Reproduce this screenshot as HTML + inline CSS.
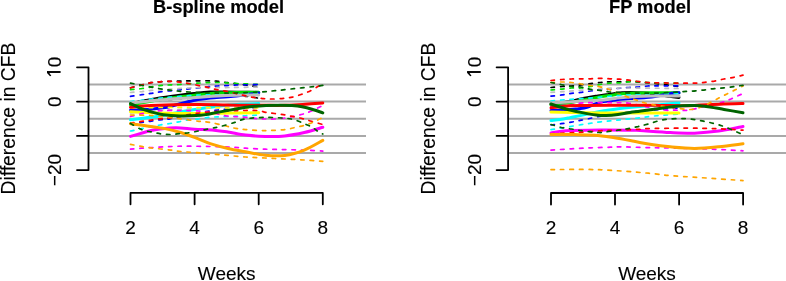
<!DOCTYPE html>
<html><head><meta charset="utf-8"><style>
html,body{margin:0;padding:0;background:#fff;}
svg{display:block;filter:blur(0.35px);}
.t{font-family:"Liberation Sans",sans-serif;font-size:19px;fill:#000;stroke:#000;stroke-width:0.12px;}
.b{font-family:"Liberation Sans",sans-serif;font-size:18.3px;font-weight:bold;fill:#000;stroke:#000;stroke-width:0.2px;}
</style></head><body>
<svg width="786" height="281" viewBox="0 0 786 281">
<line x1="88.5" y1="84.4" x2="366.0" y2="84.4" stroke="#A9A9A9" stroke-width="2"/>
<line x1="88.5" y1="101.6" x2="366.0" y2="101.6" stroke="#A9A9A9" stroke-width="2"/>
<line x1="88.5" y1="118.7" x2="366.0" y2="118.7" stroke="#A9A9A9" stroke-width="2"/>
<line x1="88.5" y1="135.9" x2="366.0" y2="135.9" stroke="#A9A9A9" stroke-width="2"/>
<line x1="88.5" y1="153.0" x2="366.0" y2="153.0" stroke="#A9A9A9" stroke-width="2"/>
<line x1="508.1" y1="84.4" x2="786.0" y2="84.4" stroke="#A9A9A9" stroke-width="2"/>
<line x1="508.1" y1="101.6" x2="786.0" y2="101.6" stroke="#A9A9A9" stroke-width="2"/>
<line x1="508.1" y1="118.7" x2="786.0" y2="118.7" stroke="#A9A9A9" stroke-width="2"/>
<line x1="508.1" y1="135.9" x2="786.0" y2="135.9" stroke="#A9A9A9" stroke-width="2"/>
<line x1="508.1" y1="153.0" x2="786.0" y2="153.0" stroke="#A9A9A9" stroke-width="2"/>
<path d="M130.5 103.5C134.5 102.8 146.3 100.4 154.6 99.0C162.8 97.6 170.8 96.5 180.0 95.3C189.2 94.1 202.5 92.6 210.0 92.1C217.5 91.6 220.0 92.1 225.0 92.1C230.0 92.1 234.4 92.2 240.0 92.3C245.6 92.3 255.6 92.4 258.7 92.4" stroke="#000000" stroke-width="3.0" stroke-linecap="round" fill="none"/>
<path d="M130.5 87.8C132.4 87.3 138.6 85.8 142.0 84.9C145.4 84.1 148.0 83.2 151.0 82.7C154.0 82.2 156.8 82.0 160.0 81.8C163.2 81.6 166.7 81.4 170.0 81.3C173.3 81.2 176.8 81.2 180.0 81.1C183.2 81.0 184.0 81.0 189.0 80.9C194.0 80.9 205.2 80.7 210.0 80.8C214.8 80.9 215.0 81.0 218.0 81.3C221.0 81.6 224.8 82.3 228.0 82.7C231.2 83.1 233.8 83.4 237.0 83.8C240.2 84.2 243.4 84.7 247.0 85.2C250.6 85.7 256.8 86.7 258.7 87.0" stroke="#000000" stroke-width="1.7" stroke-dasharray="3.5 6" stroke-linecap="round" fill="none"/>
<path d="M130.5 103.3C136.4 102.7 155.1 100.7 166.0 99.8C176.9 98.9 186.0 98.6 196.0 97.9C206.0 97.2 218.7 96.2 226.0 95.8C233.3 95.4 236.0 95.6 240.0 95.8C244.0 96.0 246.9 96.3 250.0 96.7C253.1 97.1 257.2 98.0 258.7 98.2" stroke="#000000" stroke-width="1.7" stroke-dasharray="3.5 6" stroke-linecap="round" fill="none"/>
<path d="M130.5 105.0C134.5 104.2 146.3 101.9 154.6 100.5C162.8 99.1 170.8 98.0 180.0 96.8C189.2 95.6 200.8 94.1 210.0 93.4C219.2 92.7 226.9 92.8 235.0 92.6C243.1 92.4 254.8 92.3 258.7 92.3" stroke="#00E000" stroke-width="3.0" stroke-linecap="round" fill="none"/>
<path d="M130.5 89.6C132.4 89.4 137.1 89.2 142.0 88.5C146.9 87.8 155.3 86.2 160.0 85.6C164.7 85.0 166.7 85.1 170.0 84.9C173.3 84.7 175.0 84.8 180.0 84.5C185.0 84.2 193.7 83.3 200.0 83.0C206.3 82.7 211.8 82.4 218.0 82.5C224.2 82.6 230.2 83.2 237.0 83.5C243.8 83.8 255.1 84.3 258.7 84.5" stroke="#00E000" stroke-width="1.7" stroke-dasharray="3.5 6" stroke-linecap="round" fill="none"/>
<path d="M130.5 110.2C132.9 110.1 140.9 109.8 145.0 109.6C149.1 109.4 151.7 109.1 155.0 108.8C158.3 108.5 162.2 108.1 165.0 107.6C167.8 107.1 169.5 106.6 172.0 106.0C174.5 105.4 177.3 104.5 180.0 103.8C182.7 103.1 185.3 102.4 188.0 101.8C190.7 101.2 192.3 100.6 196.0 100.0C199.7 99.4 203.8 98.6 210.0 98.0C216.2 97.4 224.9 97.1 233.0 96.3C241.1 95.5 254.4 93.5 258.7 93.0" stroke="#0000FF" stroke-width="3.0" stroke-linecap="round" fill="none"/>
<path d="M130.5 96.3C132.4 96.0 138.6 95.2 142.0 94.7C145.4 94.2 148.0 93.9 151.0 93.4C154.0 92.9 155.2 92.5 160.0 91.9C164.8 91.3 175.2 90.3 180.0 89.8C184.8 89.3 184.2 89.4 189.0 88.9C193.8 88.4 204.2 87.2 209.0 86.7C213.8 86.2 215.0 86.2 218.0 86.0C221.0 85.8 223.8 85.8 227.0 85.6C230.2 85.4 231.7 85.2 237.0 85.0C242.3 84.8 255.1 84.6 258.7 84.5" stroke="#0000FF" stroke-width="1.7" stroke-dasharray="3.5 6" stroke-linecap="round" fill="none"/>
<path d="M130.5 124.0C132.1 123.8 136.8 123.0 140.0 122.6C143.2 122.1 146.7 121.8 150.0 121.3C153.3 120.8 156.7 120.2 160.0 119.8C163.3 119.4 164.2 119.8 170.0 118.8C175.8 117.8 187.0 115.0 195.0 113.5C203.0 112.0 210.5 110.8 218.0 110.0C225.5 109.2 233.2 108.9 240.0 108.5C246.8 108.1 255.6 107.7 258.7 107.5" stroke="#0000FF" stroke-width="1.7" stroke-dasharray="3.5 6" stroke-linecap="round" fill="none"/>
<path d="M130.5 119.8C132.9 119.5 139.6 118.7 145.0 118.0C150.4 117.3 157.2 116.5 163.0 115.5C168.8 114.5 174.2 113.1 180.0 112.0C185.8 110.9 191.3 110.0 198.0 109.0C204.7 108.0 213.0 106.8 220.0 106.0C227.0 105.2 233.6 104.7 240.0 104.3C246.4 103.9 255.6 103.7 258.7 103.6" stroke="#00FFFF" stroke-width="3.0" stroke-linecap="round" fill="none"/>
<path d="M130.5 101.5C132.4 101.3 138.6 100.7 142.0 100.3C145.4 99.9 148.0 99.3 151.0 99.0C154.0 98.7 156.8 98.5 160.0 98.2C163.2 97.9 163.3 97.7 170.0 97.2C176.7 96.7 190.0 95.5 200.0 95.0C210.0 94.5 220.2 94.3 230.0 94.0C239.8 93.7 253.9 93.2 258.7 93.0" stroke="#00FFFF" stroke-width="1.7" stroke-dasharray="3.5 6" stroke-linecap="round" fill="none"/>
<path d="M130.5 131.0C132.1 130.7 136.8 129.7 140.0 129.0C143.2 128.3 146.7 127.7 150.0 127.0C153.3 126.3 156.7 125.6 160.0 125.0C163.3 124.4 166.8 124.0 170.0 123.5C173.2 123.0 175.8 122.4 178.9 121.8C182.0 121.2 185.4 120.3 188.7 119.8C192.0 119.3 195.2 119.2 198.5 118.8C201.8 118.4 205.1 117.7 208.3 117.4C211.6 117.1 212.7 117.1 218.0 116.9C223.3 116.7 233.2 116.3 240.0 116.0C246.8 115.7 255.6 115.2 258.7 115.0" stroke="#00FFFF" stroke-width="1.7" stroke-dasharray="3.5 6" stroke-linecap="round" fill="none"/>
<path d="M130.5 103.0C136.4 102.4 155.1 100.4 166.0 99.5C176.9 98.6 186.0 98.3 196.0 97.6C206.0 96.9 215.6 95.9 226.0 95.5C236.4 95.1 253.2 95.1 258.7 95.0" stroke="#BEBEBE" stroke-width="3.0" stroke-linecap="round" fill="none"/>
<path d="M130.5 92.5C132.4 92.3 138.6 91.9 142.0 91.6C145.4 91.2 143.2 91.0 151.0 90.4C158.8 89.8 181.0 88.5 189.0 88.0C197.0 87.5 192.2 87.8 199.0 87.7C205.8 87.6 220.1 87.6 230.0 87.5C239.9 87.4 253.9 87.1 258.7 87.0" stroke="#BEBEBE" stroke-width="1.7" stroke-dasharray="3.5 6" stroke-linecap="round" fill="none"/>
<path d="M130.5 113.0C137.1 112.5 156.8 110.8 170.0 110.0C183.2 109.2 195.2 108.7 210.0 108.0C224.8 107.3 250.6 106.3 258.7 106.0" stroke="#BEBEBE" stroke-width="1.7" stroke-dasharray="3.5 6" stroke-linecap="round" fill="none"/>
<path d="M130.5 111.7C134.9 111.9 146.1 112.6 157.0 112.9C167.9 113.2 183.8 113.5 196.0 113.5C208.2 113.5 219.6 113.1 230.0 113.0C240.4 112.9 253.9 112.8 258.7 112.8" stroke="#FFFF00" stroke-width="3.0" stroke-linecap="round" fill="none"/>
<path d="M130.5 108.0C135.4 107.9 148.4 107.6 160.0 107.5C171.6 107.4 188.3 107.4 200.0 107.5C211.7 107.6 220.2 107.9 230.0 108.0C239.8 108.1 253.9 108.0 258.7 108.0" stroke="#FFFF00" stroke-width="1.7" stroke-dasharray="3.5 6" stroke-linecap="round" fill="none"/>
<path d="M130.5 136.4C132.1 135.9 136.8 134.5 140.0 133.6C143.2 132.7 146.7 131.6 150.0 130.8C153.3 130.0 155.7 129.5 160.0 129.0C164.3 128.5 170.2 127.8 176.0 127.8C181.8 127.8 188.2 128.8 194.5 129.2C200.8 129.6 208.4 129.7 214.0 130.2C219.6 130.7 222.7 131.2 228.0 132.0C233.3 132.8 239.4 134.4 245.6 135.1C251.8 135.8 258.7 136.3 265.2 136.4C271.7 136.5 278.3 136.6 284.8 135.9C291.3 135.2 298.0 133.9 304.3 132.5C310.6 131.1 319.7 128.1 322.8 127.2" stroke="#FF00FF" stroke-width="3.0" stroke-linecap="round" fill="none"/>
<path d="M130.5 116.5C132.9 115.9 140.1 114.0 145.0 113.0C149.9 112.0 154.2 111.1 160.0 110.7C165.8 110.3 173.5 110.5 180.0 110.5C186.5 110.5 193.2 110.5 199.0 111.0C204.8 111.5 210.3 112.7 215.0 113.5C219.7 114.3 223.4 115.5 227.0 116.0C230.6 116.5 233.2 116.5 236.4 116.7C239.7 116.9 243.1 117.1 246.5 117.4C249.9 117.7 253.5 118.3 256.7 118.6C259.9 118.9 262.6 118.9 265.6 119.0C268.6 119.1 271.3 119.2 274.5 119.0C277.7 118.8 281.6 118.4 284.7 118.0C287.8 117.6 290.0 117.1 293.0 116.5C296.0 115.9 299.4 115.1 302.5 114.2C305.6 113.3 308.0 112.5 311.4 111.0C314.8 109.5 320.9 106.4 322.8 105.5" stroke="#FF00FF" stroke-width="1.7" stroke-dasharray="3.5 6" stroke-linecap="round" fill="none"/>
<path d="M130.5 149.2C132.4 149.0 135.8 148.6 141.7 148.2C147.6 147.8 159.1 147.1 166.0 146.8C172.9 146.5 175.7 146.2 183.0 146.2C190.3 146.1 201.8 146.3 210.0 146.5C218.2 146.7 226.0 146.9 231.9 147.2C237.8 147.5 240.1 147.9 245.6 148.2C251.1 148.5 258.7 149.0 265.2 149.2C271.7 149.4 278.3 149.4 284.8 149.6C291.3 149.8 298.0 149.8 304.3 150.1C310.6 150.3 319.7 150.9 322.8 151.1" stroke="#FF00FF" stroke-width="1.7" stroke-dasharray="3.5 6" stroke-linecap="round" fill="none"/>
<path d="M130.5 107.3C133.9 107.0 140.1 105.9 151.0 105.4C161.9 105.0 183.2 104.6 196.0 104.6C208.8 104.5 217.3 105.0 228.0 105.1C238.7 105.2 250.3 105.3 260.0 105.3C269.7 105.3 278.5 105.5 286.0 105.3C293.5 105.1 298.9 104.7 305.0 104.3C311.1 103.9 319.8 103.2 322.8 103.0" stroke="#FF0000" stroke-width="3.0" stroke-linecap="round" fill="none"/>
<path d="M130.5 87.8C132.4 87.3 138.6 85.8 142.0 84.9C145.4 84.1 148.0 83.2 151.0 82.7C154.0 82.2 156.8 82.0 160.0 81.8C163.2 81.6 166.7 81.2 170.0 81.3C173.3 81.4 176.8 81.8 180.0 82.2C183.2 82.6 184.2 82.7 189.0 83.6C193.8 84.5 204.2 86.7 209.0 87.7C213.8 88.8 214.9 89.3 218.0 89.9C221.1 90.5 224.2 90.8 227.5 91.5C230.8 92.2 234.6 93.3 237.5 94.0C240.4 94.7 242.4 95.2 245.0 95.7C247.6 96.2 249.8 96.8 253.0 97.3C256.2 97.8 260.7 98.4 264.0 98.7C267.3 99.0 269.7 99.0 273.0 99.0C276.3 99.0 280.8 98.7 284.0 98.4C287.2 98.1 289.5 97.8 292.5 97.1C295.5 96.4 298.8 95.3 301.8 94.2C304.8 93.1 307.8 92.1 310.6 90.7C313.5 89.3 316.9 87.0 318.9 86.0C320.9 85.0 322.1 84.8 322.8 84.5" stroke="#FF0000" stroke-width="1.7" stroke-dasharray="3.5 6" stroke-linecap="round" fill="none"/>
<path d="M130.5 123.0C132.1 122.8 136.8 122.0 140.0 121.6C143.2 121.1 146.7 120.8 150.0 120.3C153.3 119.8 156.5 119.2 160.0 118.8C163.5 118.4 166.2 118.5 171.0 117.8C175.8 117.1 182.5 115.5 189.0 114.5C195.5 113.5 202.3 112.6 210.0 112.0C217.7 111.4 227.2 111.0 235.0 110.7C242.8 110.5 251.9 110.2 257.0 110.5C262.1 110.8 262.7 111.8 265.6 112.3C268.5 112.8 271.3 113.1 274.5 113.5C277.7 113.9 281.5 114.3 284.7 114.8C287.9 115.3 290.6 116.1 293.6 116.7C296.6 117.3 299.5 117.8 302.5 118.6C305.5 119.3 308.0 120.2 311.4 121.2C314.8 122.2 320.9 124.0 322.8 124.5" stroke="#FF0000" stroke-width="1.7" stroke-dasharray="3.5 6" stroke-linecap="round" fill="none"/>
<path d="M130.5 123.7C133.0 124.0 139.8 124.9 145.6 125.7C151.4 126.5 159.3 127.5 165.2 128.6C171.1 129.7 175.9 131.0 180.8 132.5C185.7 134.0 189.6 135.6 194.5 137.4C199.4 139.2 204.6 141.8 210.2 143.6C215.8 145.4 222.1 147.1 228.0 148.5C233.9 149.9 239.4 150.7 245.6 151.8C251.8 152.9 258.7 154.6 265.2 155.2C271.7 155.8 278.3 156.2 284.8 155.4C291.3 154.6 298.0 152.6 304.3 150.1C310.6 147.6 319.7 142.0 322.8 140.4" stroke="#FFA500" stroke-width="3.0" stroke-linecap="round" fill="none"/>
<path d="M130.5 115.0C133.8 115.1 143.4 115.1 150.0 115.5C156.6 115.9 165.0 117.0 170.0 117.5C175.0 118.0 175.2 118.1 180.0 118.7C184.8 119.3 194.0 120.7 199.0 121.3C204.0 121.9 205.5 121.6 210.0 122.4C214.5 123.2 221.7 125.0 226.0 126.0C230.3 127.0 232.5 127.8 235.8 128.4C239.1 129.0 240.7 129.2 245.6 129.6C250.5 130.0 258.7 130.6 265.2 130.6C271.7 130.6 279.9 130.1 284.8 129.6C289.7 129.1 291.2 128.3 294.5 127.6C297.8 126.9 301.1 126.3 304.3 125.3C307.6 124.3 310.9 123.1 314.0 121.8C317.1 120.5 321.3 118.2 322.8 117.5" stroke="#FFA500" stroke-width="1.7" stroke-dasharray="3.5 6" stroke-linecap="round" fill="none"/>
<path d="M130.5 144.3C132.1 144.6 136.7 145.6 140.0 146.2C143.3 146.8 145.3 147.2 150.5 147.8C155.7 148.5 165.9 149.5 171.0 150.1C176.1 150.7 176.1 151.0 181.0 151.5C185.9 152.0 195.5 152.6 200.4 153.0C205.3 153.4 206.9 153.7 210.2 154.0C213.5 154.3 217.1 154.5 220.0 154.7C222.9 154.9 223.5 155.0 227.8 155.4C232.1 155.8 239.4 156.6 245.6 157.0C251.8 157.4 258.7 157.7 265.2 158.0C271.7 158.3 278.3 158.7 284.8 159.0C291.3 159.3 298.0 159.6 304.3 160.0C310.6 160.4 319.7 161.1 322.8 161.3" stroke="#FFA500" stroke-width="1.7" stroke-dasharray="3.5 6" stroke-linecap="round" fill="none"/>
<path d="M130.5 103.6C131.8 104.2 136.1 106.3 138.5 107.3C140.9 108.3 142.6 109.0 144.7 109.8C146.8 110.5 147.8 111.0 150.9 111.8C154.0 112.6 158.6 114.0 163.4 114.7C168.2 115.4 174.6 115.8 180.0 115.9C185.4 116.1 191.7 115.8 196.0 115.6C200.3 115.4 202.4 115.1 206.0 114.6C209.6 114.1 211.9 113.4 217.3 112.4C222.8 111.4 232.9 109.5 238.7 108.5C244.5 107.5 247.4 107.1 252.0 106.6C256.6 106.1 261.3 105.7 266.0 105.5C270.7 105.3 275.7 105.2 280.0 105.2C284.3 105.2 288.3 105.3 292.0 105.6C295.7 105.9 298.7 106.2 302.0 106.8C305.3 107.4 308.5 108.2 312.0 109.2C315.5 110.2 321.0 112.3 322.8 112.9" stroke="#006400" stroke-width="3.0" stroke-linecap="round" fill="none"/>
<path d="M130.5 83.1C133.9 83.8 144.4 85.9 151.0 87.1C157.6 88.3 163.7 89.4 170.0 90.2C176.3 91.0 182.3 91.5 189.0 92.0C195.7 92.5 202.3 92.8 210.0 93.0C217.7 93.2 226.9 93.1 235.0 93.0C243.1 92.9 252.0 92.6 258.7 92.2C265.4 91.8 269.1 91.3 275.0 90.7C280.9 90.1 287.6 89.4 294.0 88.7C300.4 88.0 308.8 87.2 313.6 86.6C318.4 86.0 321.3 85.5 322.8 85.3" stroke="#006400" stroke-width="1.7" stroke-dasharray="3.5 6" stroke-linecap="round" fill="none"/>
<path d="M130.5 123.5C132.4 124.5 138.2 128.2 141.7 129.6C145.2 131.0 148.2 131.3 151.5 132.0C154.8 132.7 158.1 133.5 161.3 133.9C164.6 134.3 167.8 134.6 171.0 134.5C174.2 134.4 177.5 133.8 180.8 133.5C184.1 133.2 187.3 133.0 190.6 132.5C193.9 132.0 197.1 131.2 200.4 130.6C203.7 129.9 206.9 129.3 210.2 128.6C213.5 127.9 215.9 127.6 220.0 126.6C224.1 125.6 230.5 123.7 234.8 122.4C239.1 121.1 240.5 119.6 245.6 118.8C250.7 118.0 258.7 117.5 265.2 117.4C271.7 117.3 279.9 117.8 284.8 118.2C289.7 118.6 291.2 118.9 294.5 119.8C297.8 120.7 301.4 122.5 304.3 123.7C307.2 124.9 309.9 125.9 312.2 127.2C314.5 128.5 316.2 130.4 318.0 131.5C319.8 132.6 322.0 133.6 322.8 134.0" stroke="#006400" stroke-width="1.7" stroke-dasharray="3.5 6" stroke-linecap="round" fill="none"/>
<path d="M551.0 104.0C553.7 103.7 563.2 102.5 567.0 102.0C570.8 101.5 570.4 101.4 573.6 100.7C576.8 100.0 581.9 98.8 586.0 98.0C590.1 97.2 594.2 96.6 598.0 96.0C601.8 95.4 605.0 95.0 608.7 94.5C612.4 94.0 616.5 93.3 620.0 93.0C623.5 92.7 625.8 92.4 630.0 92.4C634.2 92.4 640.0 92.6 645.0 93.0C650.0 93.4 655.8 94.2 660.0 94.8C664.2 95.3 666.8 95.9 670.0 96.3C673.2 96.7 677.5 97.2 679.0 97.4" stroke="#000000" stroke-width="3.0" stroke-linecap="round" fill="none"/>
<path d="M551.0 87.5C552.8 87.3 558.6 86.8 562.0 86.5C565.4 86.2 565.1 86.7 571.4 86.0C577.7 85.3 593.6 83.2 600.0 82.5C606.4 81.8 606.7 81.9 610.0 81.8C613.3 81.7 616.8 81.8 620.0 81.8C623.2 81.8 624.0 81.3 629.0 81.5C634.0 81.7 641.7 82.2 650.0 83.0C658.3 83.8 674.2 86.0 679.0 86.6" stroke="#000000" stroke-width="1.7" stroke-dasharray="3.5 6" stroke-linecap="round" fill="none"/>
<path d="M551.0 105.0C553.7 104.7 563.2 103.5 567.0 103.0C570.8 102.5 570.4 102.6 573.6 102.0C576.8 101.4 581.9 100.3 586.0 99.5C590.1 98.7 594.2 97.9 598.0 97.2C601.8 96.5 605.0 96.1 608.7 95.6C612.4 95.1 616.5 94.4 620.0 94.0C623.5 93.6 625.0 93.5 630.0 93.3C635.0 93.1 641.8 92.9 650.0 92.8C658.2 92.7 674.2 92.8 679.0 92.8" stroke="#00E000" stroke-width="3.0" stroke-linecap="round" fill="none"/>
<path d="M551.0 90.0C552.8 89.8 558.6 89.4 562.0 89.1C565.4 88.8 568.2 88.2 571.4 88.0C574.6 87.8 577.8 88.2 581.0 88.0C584.2 87.8 587.2 87.1 590.4 86.5C593.6 85.9 596.7 85.0 600.0 84.5C603.3 84.0 606.7 83.5 610.0 83.2C613.3 82.9 616.8 83.0 620.0 82.8C623.2 82.6 625.9 82.0 629.0 81.8C632.1 81.6 635.2 81.6 638.4 81.7C641.6 81.8 644.9 82.3 648.0 82.5C651.1 82.7 652.1 82.7 657.3 82.8C662.5 82.9 675.4 83.1 679.0 83.2" stroke="#00E000" stroke-width="1.7" stroke-dasharray="3.5 6" stroke-linecap="round" fill="none"/>
<path d="M551.0 110.5C553.3 110.4 560.5 110.3 565.0 110.0C569.5 109.7 574.3 109.2 578.0 108.8C581.7 108.3 583.5 108.3 587.0 107.3C590.5 106.3 594.8 103.7 599.0 102.6C603.2 101.5 608.5 101.0 612.0 100.5C615.5 100.0 617.0 99.6 620.0 99.3C623.0 99.0 625.7 98.8 630.0 98.5C634.3 98.2 641.0 98.0 646.0 97.5C651.0 97.0 655.7 96.2 660.0 95.5C664.3 94.8 668.8 93.7 672.0 93.2C675.2 92.8 677.8 92.9 679.0 92.8" stroke="#0000FF" stroke-width="3.0" stroke-linecap="round" fill="none"/>
<path d="M551.0 96.2C552.8 96.0 558.6 95.4 562.0 94.9C565.4 94.4 568.2 93.8 571.4 93.4C574.6 93.0 577.8 92.8 581.0 92.4C584.2 92.0 587.2 91.4 590.4 91.0C593.6 90.6 593.6 90.6 600.0 90.0C606.4 89.4 622.6 88.0 629.0 87.5C635.4 87.0 635.2 87.2 638.4 87.0C641.6 86.8 644.9 86.2 648.0 86.0C651.1 85.8 652.1 85.8 657.3 85.8C662.5 85.8 675.4 85.8 679.0 85.8" stroke="#0000FF" stroke-width="1.7" stroke-dasharray="3.5 6" stroke-linecap="round" fill="none"/>
<path d="M551.0 125.0C552.7 124.8 557.6 124.2 561.0 123.7C564.4 123.2 568.1 122.7 571.5 122.1C574.9 121.5 573.2 121.7 581.3 120.2C589.4 118.7 603.7 115.0 620.0 113.0C636.3 111.0 669.2 108.8 679.0 108.0" stroke="#0000FF" stroke-width="1.7" stroke-dasharray="3.5 6" stroke-linecap="round" fill="none"/>
<path d="M551.0 120.6C552.5 120.4 556.8 120.1 560.0 119.6C563.2 119.1 566.7 118.3 570.0 117.6C573.3 116.9 576.3 116.4 580.0 115.6C583.7 114.8 587.7 113.8 592.0 113.0C596.3 112.2 601.3 111.2 606.0 110.5C610.7 109.8 614.3 109.2 620.0 108.5C625.7 107.8 634.2 107.0 640.0 106.5C645.8 106.0 650.5 105.7 655.0 105.3C659.5 104.9 663.0 104.4 667.0 104.0C671.0 103.6 677.0 103.2 679.0 103.0" stroke="#00FFFF" stroke-width="3.0" stroke-linecap="round" fill="none"/>
<path d="M551.0 129.6C556.0 128.8 573.0 126.0 581.3 124.7C589.6 123.4 594.3 122.6 600.8 121.8C607.3 121.0 613.9 120.5 620.4 119.8C626.9 119.1 635.1 118.3 640.0 117.8C644.9 117.2 646.7 116.9 650.0 116.5C653.3 116.1 655.2 115.9 660.0 115.5C664.8 115.1 675.8 114.2 679.0 114.0" stroke="#00FFFF" stroke-width="1.7" stroke-dasharray="3.5 6" stroke-linecap="round" fill="none"/>
<path d="M551.0 101.0C552.8 100.8 558.7 100.3 562.0 100.0C565.3 99.7 567.8 99.5 571.0 99.3C574.2 99.1 577.0 98.9 581.0 98.6C585.0 98.3 588.5 98.1 595.0 97.6C601.5 97.1 610.8 96.1 620.0 95.5C629.2 94.9 640.2 94.3 650.0 94.0C659.8 93.7 674.2 93.6 679.0 93.5" stroke="#00FFFF" stroke-width="1.7" stroke-dasharray="3.5 6" stroke-linecap="round" fill="none"/>
<path d="M551.0 103.0C555.8 102.7 571.8 101.7 580.0 101.2C588.2 100.7 594.2 100.7 600.0 100.2C605.8 99.8 610.0 99.0 615.0 98.5C620.0 98.0 624.2 97.3 630.0 96.9C635.8 96.5 641.8 96.3 650.0 96.1C658.2 95.9 674.2 95.9 679.0 95.9" stroke="#BEBEBE" stroke-width="3.0" stroke-linecap="round" fill="none"/>
<path d="M551.0 92.4C552.8 92.3 558.7 91.9 562.0 91.7C565.3 91.5 564.7 91.5 571.0 91.0C577.3 90.5 591.8 89.5 600.0 89.0C608.2 88.5 606.8 88.1 620.0 88.0C633.2 87.9 669.2 88.4 679.0 88.5" stroke="#BEBEBE" stroke-width="1.7" stroke-dasharray="3.5 6" stroke-linecap="round" fill="none"/>
<path d="M551.0 112.0C556.8 112.1 574.5 112.6 586.0 112.8C597.5 113.0 604.5 113.0 620.0 113.0C635.5 113.0 669.2 113.0 679.0 113.0" stroke="#FFFF00" stroke-width="3.0" stroke-linecap="round" fill="none"/>
<path d="M551.0 133.0C553.5 132.6 557.8 131.3 566.0 130.8C574.2 130.3 589.3 130.1 600.0 130.0C610.7 129.9 623.3 130.1 630.0 130.2C636.7 130.3 633.3 130.2 640.0 130.6C646.7 131.0 661.1 132.2 670.2 132.6C679.3 133.0 686.3 133.4 694.4 133.2C702.5 132.9 710.5 132.2 718.6 131.1C726.7 130.0 738.9 127.3 743.0 126.6" stroke="#FF00FF" stroke-width="3.0" stroke-linecap="round" fill="none"/>
<path d="M551.0 106.3C554.3 106.0 566.2 105.3 571.0 104.8C575.8 104.3 577.0 103.5 580.0 103.2C583.0 102.9 584.0 102.8 589.0 102.7C594.0 102.6 603.5 102.5 610.0 102.6C616.5 102.7 622.2 102.4 628.0 103.1C633.8 103.8 639.0 105.3 645.0 106.5C651.0 107.7 658.8 109.4 664.0 110.0C669.2 110.6 672.3 110.1 676.0 110.2C679.7 110.3 682.8 110.6 686.0 110.4C689.2 110.2 691.8 109.5 695.0 108.8C698.2 108.1 700.5 107.4 705.0 106.3C709.5 105.2 717.6 103.7 722.0 102.4C726.4 101.1 728.0 100.2 731.5 98.7C735.0 97.2 741.1 94.4 743.0 93.5" stroke="#FF00FF" stroke-width="1.7" stroke-dasharray="3.5 6" stroke-linecap="round" fill="none"/>
<path d="M551.0 150.1C554.4 149.9 564.8 149.2 571.5 148.8C578.2 148.4 584.5 148.1 591.0 147.8C597.5 147.5 605.7 147.4 610.6 147.2C615.5 147.0 614.2 146.7 620.4 146.8C626.6 146.9 639.5 147.4 647.8 147.6C656.1 147.8 658.7 147.7 670.0 148.0C681.3 148.3 703.4 148.8 715.6 149.3C727.8 149.8 738.4 150.6 743.0 150.8" stroke="#FF00FF" stroke-width="1.7" stroke-dasharray="3.5 6" stroke-linecap="round" fill="none"/>
<path d="M551.0 107.8C554.1 107.5 563.7 106.2 569.5 105.8C575.3 105.4 575.9 105.5 586.0 105.4C596.1 105.3 617.7 105.3 630.0 105.3C642.3 105.3 650.8 105.3 660.0 105.4C669.2 105.5 678.3 105.8 685.0 105.7C691.7 105.7 694.2 105.3 700.0 105.1C705.8 104.8 712.8 104.5 720.0 104.2C727.2 103.9 739.2 103.6 743.0 103.5" stroke="#FF0000" stroke-width="3.0" stroke-linecap="round" fill="none"/>
<path d="M551.0 80.5C552.8 80.3 558.6 79.8 562.0 79.5C565.4 79.2 568.2 79.1 571.4 79.0C574.6 78.9 577.8 78.8 581.0 78.8C584.2 78.8 587.2 78.9 590.4 78.8C593.6 78.7 596.7 78.4 600.0 78.4C603.3 78.4 606.8 78.7 610.0 78.8C613.2 78.9 616.3 79.0 619.5 79.2C622.7 79.4 625.9 79.8 629.0 80.2C632.1 80.6 635.2 81.1 638.4 81.5C641.6 81.9 644.9 82.3 648.0 82.5C651.1 82.7 652.0 82.7 657.3 82.8C662.6 82.9 673.3 83.2 680.0 83.2C686.7 83.2 693.4 83.2 697.5 83.0C701.6 82.8 701.9 82.6 704.7 82.3C707.5 82.0 711.2 81.6 714.4 81.1C717.6 80.5 720.8 79.6 724.0 79.0C727.2 78.4 730.6 77.9 733.8 77.3C737.0 76.7 741.5 75.5 743.0 75.2" stroke="#FF0000" stroke-width="1.7" stroke-dasharray="3.5 6" stroke-linecap="round" fill="none"/>
<path d="M551.0 133.8C555.0 133.6 566.8 133.1 575.0 132.6C583.2 132.1 592.5 131.2 600.0 130.8C607.5 130.4 613.3 130.2 620.0 130.0C626.7 129.8 635.4 129.5 640.0 129.3C644.6 129.1 640.2 128.8 647.8 128.6C655.3 128.4 674.0 128.1 685.3 128.1C696.6 128.1 706.0 128.3 715.6 128.7C725.2 129.0 738.4 129.9 743.0 130.2" stroke="#FF0000" stroke-width="1.7" stroke-dasharray="3.5 6" stroke-linecap="round" fill="none"/>
<path d="M551.0 134.6C555.0 134.6 567.7 134.5 575.0 134.6C582.3 134.7 588.4 134.7 595.0 135.2C601.6 135.7 608.0 136.8 614.5 137.8C621.0 138.8 628.1 140.2 634.0 141.3C639.9 142.4 644.0 143.4 650.0 144.3C656.0 145.2 662.8 146.1 670.2 146.8C677.6 147.5 686.3 148.4 694.4 148.4C702.5 148.4 710.5 147.6 718.6 146.8C726.7 146.0 738.9 144.3 743.0 143.8" stroke="#FFA500" stroke-width="3.0" stroke-linecap="round" fill="none"/>
<path d="M551.0 82.5C552.8 82.4 558.6 82.0 562.0 82.0C565.4 82.0 566.7 81.9 571.4 82.5C576.1 83.1 585.6 84.8 590.4 85.5C595.2 86.2 596.7 86.1 600.0 86.8C603.3 87.5 605.7 88.2 610.0 89.8C614.3 91.4 621.8 94.8 626.0 96.4C630.2 98.0 631.8 98.5 635.0 99.6C638.2 100.7 640.8 101.9 645.0 103.0C649.2 104.1 654.3 105.1 660.0 106.0C665.7 106.9 673.7 107.9 679.0 108.5C684.3 109.1 688.3 109.7 692.0 109.4C695.7 109.2 698.1 108.1 701.0 107.0C703.9 105.9 706.5 104.5 709.5 103.0C712.5 101.5 715.9 99.6 718.8 98.1C721.7 96.6 724.2 95.3 727.0 93.9C729.8 92.5 733.1 90.9 735.8 89.6C738.5 88.3 741.8 86.6 743.0 86.0" stroke="#FFA500" stroke-width="1.7" stroke-dasharray="3.5 6" stroke-linecap="round" fill="none"/>
<path d="M551.0 169.6C559.0 169.6 582.8 169.1 599.0 169.7C615.2 170.3 636.5 172.2 648.4 173.2C660.3 174.2 661.5 174.9 670.2 175.6C678.9 176.3 688.3 176.8 700.4 177.6C712.5 178.4 735.9 180.1 743.0 180.6" stroke="#FFA500" stroke-width="1.7" stroke-dasharray="3.5 6" stroke-linecap="round" fill="none"/>
<path d="M551.0 104.0C553.5 104.8 561.0 107.6 566.0 109.0C571.0 110.4 576.0 111.4 581.0 112.4C586.0 113.4 591.8 114.5 596.0 115.0C600.2 115.5 602.3 115.6 606.0 115.5C609.7 115.4 614.0 115.0 618.0 114.5C622.0 114.0 626.2 113.1 630.0 112.5C633.8 111.9 635.5 111.8 641.0 111.0C646.5 110.2 657.2 108.8 663.0 108.0C668.8 107.2 671.5 106.7 676.0 106.3C680.5 105.9 686.0 105.7 690.0 105.6C694.0 105.5 696.7 105.5 700.0 105.7C703.3 105.9 706.0 106.3 710.0 106.9C714.0 107.5 718.5 108.4 724.0 109.4C729.5 110.4 739.8 112.2 743.0 112.7" stroke="#006400" stroke-width="3.0" stroke-linecap="round" fill="none"/>
<path d="M551.0 82.5C554.4 83.2 566.4 85.8 571.4 86.5C576.4 87.2 577.8 86.5 581.0 87.0C584.2 87.5 587.2 88.8 590.4 89.4C593.6 90.0 596.7 90.0 600.0 90.4C603.3 90.8 605.0 91.6 610.0 92.0C615.0 92.4 621.7 92.8 630.0 93.0C638.3 93.2 651.8 93.2 660.0 93.0C668.2 92.8 674.7 92.3 679.0 92.0C683.3 91.7 683.2 91.6 686.0 91.4C688.8 91.2 692.5 91.1 695.7 90.8C698.9 90.5 702.2 90.2 705.3 89.8C708.4 89.4 711.3 88.9 714.4 88.6C717.5 88.3 720.8 88.1 724.0 87.8C727.2 87.5 730.6 87.0 733.8 86.6C737.0 86.2 741.5 85.5 743.0 85.3" stroke="#006400" stroke-width="1.7" stroke-dasharray="3.5 6" stroke-linecap="round" fill="none"/>
<path d="M551.0 124.5C552.8 125.0 558.3 126.8 561.7 127.6C565.1 128.3 568.2 128.5 571.5 129.0C574.8 129.5 576.7 130.0 581.3 130.6C585.9 131.2 594.3 132.3 598.9 132.5C603.5 132.7 605.4 131.9 608.7 131.5C612.0 131.1 615.2 130.7 618.5 130.2C621.8 129.7 625.0 129.2 628.3 128.6C631.5 128.0 634.8 127.3 638.0 126.6C641.2 125.8 643.4 125.3 647.8 124.1C652.2 122.9 658.0 120.5 664.2 119.6C670.5 118.7 678.8 118.4 685.3 118.7C691.8 119.0 697.5 120.0 703.5 121.2C709.5 122.4 715.6 123.7 721.6 125.7C727.6 127.7 736.1 131.7 739.7 133.2C743.3 134.7 742.5 134.3 743.0 134.5" stroke="#006400" stroke-width="1.7" stroke-dasharray="3.5 6" stroke-linecap="round" fill="none"/>
<path d="M77.0 67.3H88.5V170.1H77.0 M77.0 101.6H88.5 M77.0 135.9H88.5" stroke="#000" stroke-width="1.8" fill="none" stroke-linecap="round" stroke-linejoin="round"/>
<path d="M130.5 204.3V192.8H322.8V204.3 M194.6 192.8V204.3 M258.7 192.8V204.3" stroke="#000" stroke-width="1.8" fill="none" stroke-linecap="round" stroke-linejoin="round"/>
<text x="130.5" y="234" text-anchor="middle" class="t">2</text>
<text x="194.6" y="234" text-anchor="middle" class="t">4</text>
<text x="258.7" y="234" text-anchor="middle" class="t">6</text>
<text x="322.8" y="234" text-anchor="middle" class="t">8</text>
<text transform="translate(60.6 101.6) rotate(-90)" text-anchor="middle" class="t">0</text>
<text transform="translate(60.6 170.1) rotate(-90)" text-anchor="middle" class="t">−20</text>
<text transform="translate(60.6 67.3) rotate(-90)" text-anchor="start" class="t">0</text>
<path d="M47.0 72.0H60.6" stroke="#000" stroke-width="1.9"/>
<path d="M47.0 71.1L47.0 73.0L50.0 76.2L51.3 75.8L49.0 72.4Z" fill="#000"/>
<text transform="translate(14.6 118.6) rotate(-90)" text-anchor="middle" class="t" style="font-size:19.3px">Difference in CFB</text>
<text x="226.7" y="279.5" text-anchor="middle" class="t">Weeks</text>
<path d="M496.6 67.3H508.1V170.1H496.6 M496.6 101.6H508.1 M496.6 135.9H508.1" stroke="#000" stroke-width="1.8" fill="none" stroke-linecap="round" stroke-linejoin="round"/>
<path d="M551.0 204.5V193.0H743.1V204.5 M615.0 193.0V204.5 M679.1 193.0V204.5" stroke="#000" stroke-width="1.8" fill="none" stroke-linecap="round" stroke-linejoin="round"/>
<text x="551.0" y="234" text-anchor="middle" class="t">2</text>
<text x="615.0" y="234" text-anchor="middle" class="t">4</text>
<text x="679.1" y="234" text-anchor="middle" class="t">6</text>
<text x="743.1" y="234" text-anchor="middle" class="t">8</text>
<text transform="translate(480.8 101.6) rotate(-90)" text-anchor="middle" class="t">0</text>
<text transform="translate(480.8 170.1) rotate(-90)" text-anchor="middle" class="t">−20</text>
<text transform="translate(480.8 67.3) rotate(-90)" text-anchor="start" class="t">0</text>
<path d="M467.2 72.0H480.8" stroke="#000" stroke-width="1.9"/>
<path d="M467.2 71.1L467.2 73.0L470.2 76.2L471.5 75.8L469.2 72.4Z" fill="#000"/>
<text transform="translate(435.2 118.6) rotate(-90)" text-anchor="middle" class="t" style="font-size:19.3px">Difference in CFB</text>
<text x="647.0" y="279.5" text-anchor="middle" class="t">Weeks</text>
<text x="218.5" y="13.3" text-anchor="middle" class="b">B-spline model</text>
<text x="650.0" y="13.3" text-anchor="middle" class="b">FP model</text>
</svg>
</body></html>
